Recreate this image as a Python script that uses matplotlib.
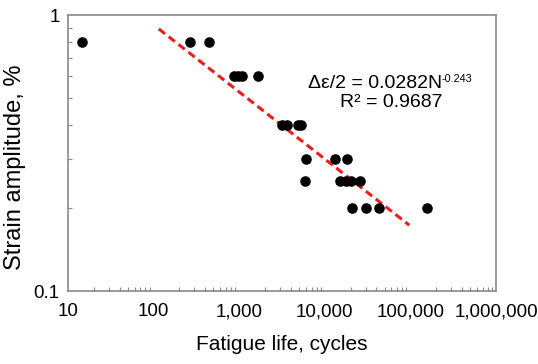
import numpy as np
import matplotlib
matplotlib.use("Agg")
import matplotlib.pyplot as plt
from matplotlib.ticker import FuncFormatter, LogLocator, NullFormatter

plt.rcParams['font.family'] = ['Liberation Sans', 'DejaVu Sans']

# fatigue life (cycles) and strain amplitude (%)
life = [14.4, 264, 440,
        869, 968, 1089, 1675,
        3170, 3664, 4830, 5336,
        6110, 13100, 18400,
        5890, 15100, 17600, 20100, 25600,
        20700, 30400, 42500, 154600]
strain = [0.8, 0.8, 0.8,
          0.6, 0.6, 0.6, 0.6,
          0.4, 0.4, 0.4, 0.4,
          0.3, 0.3, 0.3,
          0.25, 0.25, 0.25, 0.25, 0.25,
          0.2, 0.2, 0.2, 0.2]

# power law fit: strain(%) = 100 * 0.0282 * N^-0.243
fit_coef = 0.0282
fit_exp = -0.243
fit_range = [115, 97000]

fig = plt.figure(figsize=(5.38, 3.64), dpi=100)
ax = fig.add_axes([68 / 538, 1 - 291 / 364, (496 - 68) / 538, (291 - 15) / 364])

ax.scatter(life, strain, s=58, color='black', zorder=3, linewidths=0)

nfit = np.logspace(np.log10(fit_range[0]), np.log10(fit_range[1]), 50)
ax.plot(nfit, 100 * fit_coef * nfit ** fit_exp, color='#ee1c1c', linestyle=(0, (2.6, 1.5)), linewidth=2.2)

ax.set_xscale('log')
ax.set_yscale('log')
ax.set_xlim(10, 1e6)
ax.set_ylim(0.1, 1)

ax.xaxis.set_major_formatter(FuncFormatter(lambda v, p: '{:,.0f}'.format(v)))
ax.yaxis.set_major_formatter(FuncFormatter(lambda v, p: '{:g}'.format(v)))
ax.xaxis.set_minor_locator(LogLocator(base=10, subs=np.arange(2, 10)))
ax.yaxis.set_minor_locator(LogLocator(base=10, subs=np.arange(2, 10)))
ax.xaxis.set_minor_formatter(NullFormatter())
ax.yaxis.set_minor_formatter(NullFormatter())
ax.tick_params(which='major', length=0, labelsize=13.5)
ax.tick_params(axis='x', which='major', pad=9)
ax.tick_params(axis='y', which='major', pad=6)
ax.tick_params(which='minor', direction='in', length=3, width=0.8, color='#888888')

for s in ax.spines.values():
    s.set_color('#8a8a8a')
    s.set_linewidth(1.2)

ax.set_xlabel('Fatigue life, cycles', fontsize=15)
ax.xaxis.set_label_coords(0.5, -0.16)
ax.set_ylabel('Strain amplitude, %', fontsize=17, va='center')
ax.yaxis.set_label_coords(-0.124, 0.45)

eq = ax.text(0.56, 0.75, 'Δε/2 = 0.0282N', transform=ax.transAxes,
             ha='left', va='center', fontsize=14)
ax.annotate('-0.243', xy=(1, 0.82), xycoords=eq, ha='left', va='center', fontsize=7.8)
ax.text(0.755, 0.683, 'R² = 0.9687', transform=ax.transAxes,
        ha='center', va='center', fontsize=14)

fig.savefig('out.png', dpi=100)
